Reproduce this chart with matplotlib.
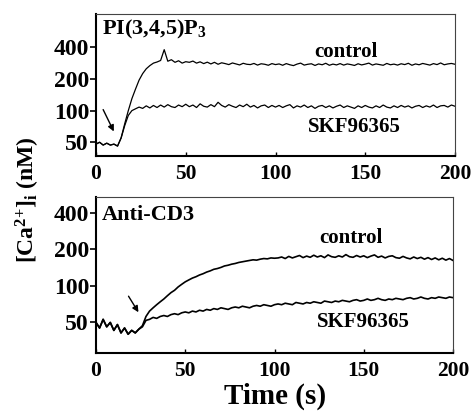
import matplotlib
matplotlib.use("Agg")
import matplotlib.pyplot as plt
from matplotlib.ticker import FixedLocator, FixedFormatter, NullLocator

plt.rcParams['font.family'] = ['Liberation Serif', 'DejaVu Serif']
plt.rcParams['font.weight'] = 'bold'
plt.rcParams['mathtext.fontset'] = 'custom'
plt.rcParams['mathtext.rm'] = 'Liberation Serif:bold'
plt.rcParams['mathtext.it'] = 'Liberation Serif:bold'
plt.rcParams['mathtext.bf'] = 'Liberation Serif:bold'

# time axis (s), 2 s steps
time_s = list(range(0, 201, 2))

# Panel A: PI(3,4,5)P3
pip3_control = [48, 50, 47, 49, 47, 48,
                46, 55, 75, 100, 130, 160, 195, 225, 250, 268, 283, 290, 300, 380, 295, 305, 288, 298, 283, 292,
                288, 296, 283, 291, 280, 289, 278, 288, 276, 285, 280, 274, 284, 278, 272, 282, 276, 274, 281, 271, 279, 276, 270, 280, 274,
                278, 270, 280, 273, 268, 277, 283, 271, 276, 279, 269, 278, 273, 282, 270, 277, 272, 280, 271, 278,
                274, 269, 279, 272, 277, 283, 271, 278, 274, 270, 281, 273, 277, 271, 279, 274, 282, 270, 278, 273,
                281, 276, 271, 280, 274, 284, 273, 278, 281, 276]
pip3_skf = [48, 50, 47, 49, 47, 48,
            46, 55, 72, 90, 100, 104, 108, 105, 111, 106, 112, 107, 113, 108, 114, 109, 107, 113, 109, 115,
            109, 113, 107, 116, 110, 108, 114, 109, 120, 112, 108, 114, 110, 107, 113, 109, 115, 108, 112, 106, 111, 113, 107, 112, 108,
            112, 107, 111, 114, 106, 111, 108, 113, 107, 111, 105, 110, 112, 107, 111, 106, 110, 113, 107, 111,
            108, 105, 111, 107, 112, 108, 106, 111, 107, 113, 108, 106, 111, 107, 112, 108, 111, 106, 110, 112,
            107, 111, 108, 113, 107, 111, 112, 108, 113, 110]

# Panel B: Anti-CD3
cd3_control = [50, 45, 53, 46, 50, 43, 48, 41, 45, 40, 43, 41, 44,
               47, 56, 62, 66, 70, 74, 78, 83, 88, 92, 98, 103, 108,
               112, 116, 119, 123, 126, 130, 133, 137, 139, 142, 146, 148, 151, 153, 156, 158, 160, 162, 164, 163, 166, 168, 167, 170, 169,
               170, 173, 168, 175, 170, 174, 178, 171, 176, 172, 179, 173, 177, 171, 180, 174, 172, 177, 173, 181,
               174, 172, 178, 173, 177, 171, 176, 180, 172, 176, 170, 175, 177, 171, 169, 175, 170, 167, 173, 168,
               172, 166, 171, 165, 170, 164, 169, 163, 168, 162]
cd3_skf = [50, 45, 53, 46, 50, 43, 48, 41, 45, 40, 43, 41, 44,
           46, 52, 53, 55, 54, 56, 57, 56, 58, 59, 58, 60, 61,
           60, 62, 61, 63, 62, 64, 63, 65, 64, 66, 65, 64, 66, 67, 66, 68, 67, 66, 68, 69, 68, 70, 69, 68, 70,
           71, 70, 72, 71, 70, 73, 72, 71, 73, 72, 74, 73, 72, 75, 74, 73, 75, 74, 76, 75,
           74, 76, 77, 75, 76, 78, 76, 77, 79, 77, 76, 78, 77, 79, 78, 77, 79, 80, 78, 79,
           81, 79, 78, 80, 79, 81, 80, 79, 81, 80]

y_ticks = [50, 100, 200, 400]
x_ticks = [0, 50, 100, 150, 200]
panel_titles = ["PI(3,4,5)P$_3$", "Anti-CD3"]
series_labels = ["control", "SKF96365"]

W, H = 471, 418
fig = plt.figure(figsize=(W / 100, H / 100), dpi=100)

def fx(px):
    return px / W

def fy(py):
    return 1 - py / H

ax1 = fig.add_axes([fx(96), fy(156), fx(455) - fx(96), fy(14) - fy(156)])
ax2 = fig.add_axes([fx(96), fy(353), fx(453) - fx(96), fy(197) - fy(353)])

def style(ax, ylim):
    ax.set_yscale('log')
    ax.set_xlim(0, 200)
    ax.set_ylim(*ylim)
    ax.yaxis.set_major_locator(FixedLocator(y_ticks))
    ax.yaxis.set_major_formatter(FixedFormatter([str(v) for v in y_ticks]))
    ax.yaxis.set_minor_locator(NullLocator())
    ax.set_xticks(x_ticks)
    ax.set_xticklabels([str(v) for v in x_ticks])
    ax.tick_params(axis='y', direction='out', length=4, width=1.2, labelsize=17, pad=1)
    ax.tick_params(axis='x', direction='in', length=3, width=1.0, labelsize=15.5, pad=6)
    for lab in ax.get_xticklabels() + ax.get_yticklabels():
        lab.set_fontweight('bold')
    ax.spines['left'].set_linewidth(1.5)
    ax.spines['bottom'].set_linewidth(1.5)
    ax.spines['top'].set_linewidth(0.8)
    ax.spines['right'].set_linewidth(0.8)
    ax.spines['top'].set_color('#444444')
    ax.spines['right'].set_color('#444444')

style(ax1, (37, 830))
style(ax2, (28, 540))

ax1.plot(time_s, pip3_control, color='black', lw=0.9)
ax1.plot(time_s, pip3_skf, color='black', lw=0.9)
ax2.plot(time_s, cd3_control, color='black', lw=1.2)
ax2.plot(time_s, cd3_skf, color='black', lw=1.2)

ax1.text(0.017, 0.89, panel_titles[0], transform=ax1.transAxes, fontsize=16,
         fontweight='bold', ha='left', va='center')
ax2.text(0.017, 0.885, panel_titles[1], transform=ax2.transAxes, fontsize=16,
         fontweight='bold', ha='left', va='center')

ax1.text(139, 360, series_labels[0], fontsize=15, fontweight='bold', ha='center', va='center')
ax1.text(144, 70, series_labels[1], fontsize=15, fontweight='bold', ha='center', va='center')
ax2.text(143, 250, series_labels[0], fontsize=15, fontweight='bold', ha='center', va='center')
ax2.text(150, 50, series_labels[1], fontsize=15, fontweight='bold', ha='center', va='center')

arrowprops = dict(arrowstyle='-|>', color='black', lw=1.0, mutation_scale=9)
ax1.annotate('', xy=(10.6, 60), xytext=(3.3, 108), arrowprops=arrowprops)
ax2.annotate('', xy=(24.6, 58), xytext=(17.4, 86), arrowprops=arrowprops)

fig.text(fx(28), fy(200), "[Ca$^{2{+}}$]$_{\\mathrm{i}}$ (nM)", rotation=90, fontsize=17,
         fontweight='bold', ha='center', va='center')
fig.text(fx(275), fy(396), "Time (s)", fontsize=21, fontweight='bold', ha='center', va='center')

fig.savefig("out.png", dpi=100)
